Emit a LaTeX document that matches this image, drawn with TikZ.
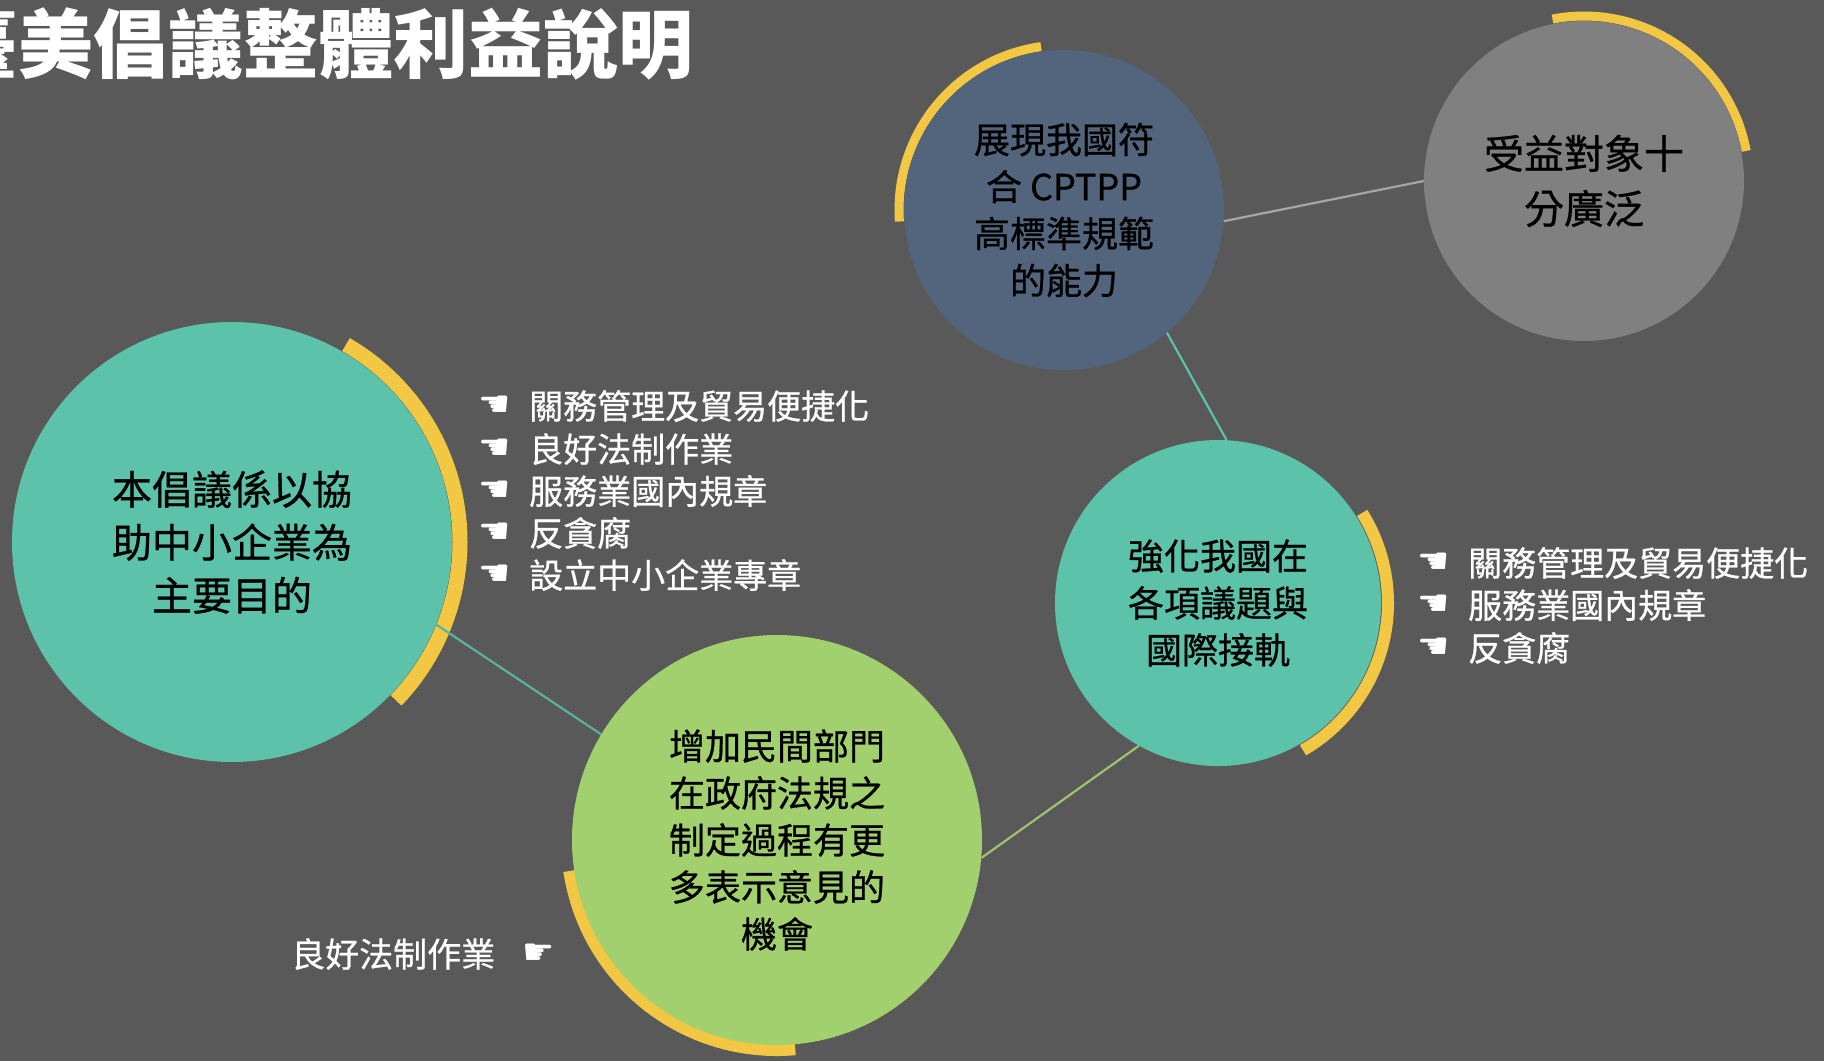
\documentclass[tikz,border=0pt]{standalone}
\usepackage{fontspec}
\newfontfamily\cjk{Noto Sans CJK TC}
\newfontfamily\cjkm[FakeBold=0.7]{Noto Sans CJK TC}
\newfontfamily\sym{DejaVu Sans}
\definecolor{bgc}{HTML}{595959}
\definecolor{tealc}{HTML}{5CC3AA}
\definecolor{bluec}{HTML}{52657D}
\definecolor{greyc}{HTML}{808080}
\definecolor{greenc}{HTML}{A2D06E}
\definecolor{yel}{HTML}{F2C744}
\definecolor{linegrey}{HTML}{A6A6A6}
\definecolor{lineteal}{HTML}{5BB39C}
\definecolor{lineolive}{HTML}{9DC46F}
\begin{document}
\begin{tikzpicture}[x=1pt,y=1pt,
  bubble/.style={circle, inner sep=0pt, align=center, text=black},
  bigfont/.style={font=\cjkm\fontsize{40}{53}\selectfont},
  smallfont/.style={font=\cjkm\fontsize{36}{47}\selectfont},
  greyfont/.style={font=\cjkm\fontsize{40}{55}\selectfont},
  yarc/.style={draw=yel, line width=#1, line cap=butt},
  hand/.style={anchor=west, inner sep=0pt, text=white, font=\sym\fontsize{36}{38}\selectfont},
  bul/.style={anchor=west, inner sep=0pt, text=white, font=\cjkm\fontsize{34}{40}\selectfont},
  conn/.style={line width=2.2pt}]
\useasboundingbox (0,-1061) rectangle (1824,0);
\clip (0,-1061) rectangle (1824,0);
\fill[bgc] (0,-1061) rectangle (1824,0);

% title
\node[anchor=east, inner sep=0pt, text=white, font=\cjk\bfseries\fontsize{75}{80}\selectfont] (title) at (694,-44) {臺美倡議整體利益說明};

% centres
\coordinate (cL) at (232,-542);
\coordinate (cB) at (1064,-210);
\coordinate (cG) at (1584,-181);
\coordinate (cT) at (1218,-603);
\coordinate (cN) at (777,-840);

% yellow arcs (behind circles)
\draw[yarc=15pt] (cL) ++(-44:228) arc[start angle=-44, end angle=60, radius=228];
\draw[yarc=9pt] (cB) ++(98:165) arc[start angle=98, end angle=184, radius=165];
\draw[yarc=9pt] (cG) ++(10.5:165) arc[start angle=10.5, end angle=101, radius=165];
\draw[yarc=12pt] (cT) ++(-60:170) arc[start angle=-60, end angle=32, radius=170];
\draw[yarc=12pt] (cN) ++(188.5:210) arc[start angle=188.5, end angle=275, radius=210];

% circles
\node[bubble, bigfont, fill=tealc, minimum size=440pt] (L) at (cL) {本倡議係以協\\助中小企業為\\主要目的};
\node[bubble, smallfont, fill=bluec, minimum size=320pt] (B) at (cB) {展現我國符\\合 CPTPP\\高標準規範\\的能力};
\node[bubble, greyfont, fill=greyc, minimum size=320pt] (G) at (cG) {受益對象十\\分廣泛};
\node[bubble, smallfont, fill=tealc, minimum size=326pt] (T) at (cT) {強化我國在\\各項議題與\\國際接軌};
\node[bubble, smallfont, fill=greenc, minimum size=410pt] (N) at (cN) {增加民間部門\\在政府法規之\\制定過程有更\\多表示意見的\\機會};

% connectors
\draw[conn, draw=linegrey] (B.-4) -- (G.180);
\draw[conn, draw=tealc] (B.-50) -- (T.87.5);
\draw[conn, draw=lineteal] (L.-22.5) -- (N.149);
\draw[conn, draw=lineolive] (N.-5.6) -- (T.241);

% left bullet list
\node[hand] (h1) at (478,-406) {☚};
\node[bul] (b1) at (529,-406) {關務管理及貿易便捷化};
\node[hand] (h2) at (478,-449) {☚};
\node[bul] (b2) at (529,-449) {良好法制作業};
\node[hand] (h3) at (478,-491) {☚};
\node[bul] (b3) at (529,-491) {服務業國內規章};
\node[hand] (h4) at (478,-533) {☚};
\node[bul] (b4) at (529,-533) {反貪腐};
\node[hand] (h5) at (478,-575) {☚};
\node[bul] (b5) at (529,-575) {設立中小企業專章};

% right bullet list
\node[hand] (r1) at (1417,-563) {☚};
\node[bul] (rb1) at (1468,-563) {關務管理及貿易便捷化};
\node[hand] (r2) at (1417,-605) {☚};
\node[bul] (rb2) at (1468,-605) {服務業國內規章};
\node[hand] (r3) at (1417,-648) {☚};
\node[bul] (rb3) at (1468,-648) {反貪腐};

% bottom-left item
\node[bul] (c1) at (291,-954) {良好法制作業};
\node[hand] (ch1) at (522,-954) {☛};
\end{tikzpicture}
\end{document}
